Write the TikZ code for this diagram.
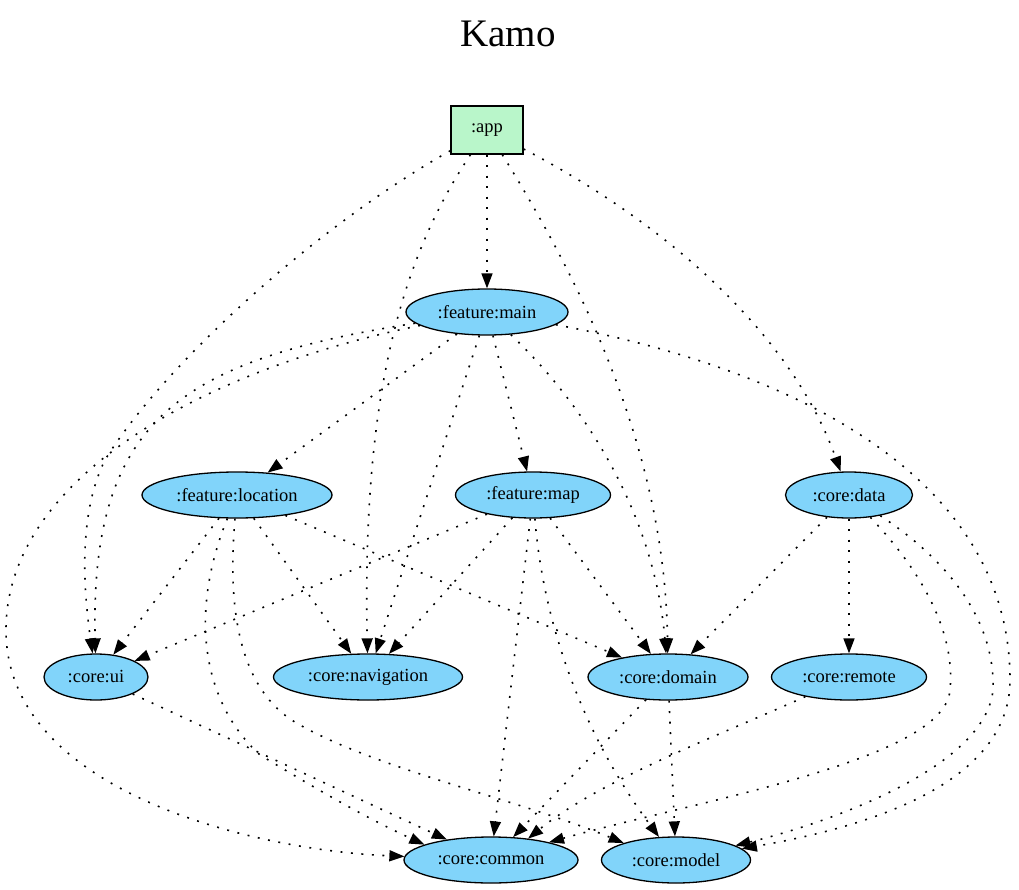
\documentclass[tikz,border=0pt]{standalone}
\usepackage{fontspec}
\setmainfont{Liberation Serif}
\usetikzlibrary{shapes.geometric,arrows.meta}
\definecolor{modblue}{HTML}{81D4FA}
\definecolor{appgreen}{HTML}{B9F6CA}
\begin{document}
\begin{tikzpicture}[x=1pt,y=-1pt,
  mod/.style={ellipse, draw, line width=1.3pt, fill=modblue, minimum height=46pt, inner sep=0pt, font=\fontsize{18.5}{20}\selectfont},
  appbox/.style={rectangle, draw, line width=1.3pt, fill=appgreen, minimum width=72pt, minimum height=48pt, inner sep=0pt, font=\fontsize{18.5}{20}\selectfont},
  dep/.style={line width=1.6pt, dash pattern=on 1.9pt off 8.6pt, -{Triangle[length=15pt,width=11pt]}},
  titlestyle/.style={font=\fontsize{39}{42}\selectfont, anchor=base}]
\useasboundingbox (0,0) rectangle (1019,890);

\node[titlestyle] (title) at (508,47) {Kamo};

\node[appbox] (app) at (487,130) {:app};
\node[mod, minimum width=162pt] (fmain) at (487,312) {:feature:main};
\node[mod, minimum width=190pt] (floc) at (237,495) {:feature:location};
\node[mod, minimum width=155pt] (fmap) at (533,495) {:feature:map};
\node[mod, minimum width=127pt] (data) at (849,495) {:core:data};
\node[mod, minimum width=104pt] (ui) at (96,677) {:core:ui};
\node[mod, minimum width=189pt] (nav) at (368,677) {:core:navigation};
\node[mod, minimum width=160pt] (domain) at (668,677) {:core:domain};
\node[mod, minimum width=155pt] (remote) at (849,677) {:core:remote};
\node[mod, minimum width=174pt] (common) at (491,860) {:core:common};
\node[mod, minimum width=149pt] (model) at (676,860) {:core:model};

% from :app
\draw[dep] (app) -- (fmain);
\draw[dep] (app) .. controls (310,230) and (160,370) .. (105,460) .. controls (80,510) and (82,580) .. (ui);
\draw[dep] (app) .. controls (400,260) and (362,400) .. (nav);
\draw[dep] (app) .. controls (580,280) and (665,450) .. (domain);
\draw[dep] (app) .. controls (660,220) and (790,330) .. (data);

% from :feature:main
\draw[dep] (fmain) .. controls (180,360) and (90,420) .. (ui);
\draw[dep] (fmain) .. controls (200,370) and (6,480) .. (6,630) .. controls (6,790) and (250,850) .. (common);
\draw[dep] (fmain) -- (floc);
\draw[dep] (fmain) -- (nav);
\draw[dep] (fmain) -- (fmap);
\draw[dep] (fmain) .. controls (590,410) and (655,520) .. (domain);
\draw[dep] (fmain) .. controls (800,370) and (1010,480) .. (1010,680) .. controls (1010,790) and (850,830) .. (model);

% from :feature:location
\draw[dep] (floc) -- (ui);
\draw[dep] (floc) -- (nav);
\draw[dep] (floc) -- (domain);
\draw[dep] (floc) .. controls (190,610) and (200,700) .. (260,755) .. controls (310,785) and (360,815) .. (common.167);
\draw[dep] (floc) .. controls (228,600) and (235,690) .. (300,725) .. controls (380,770) and (520,800) .. (model.162);

% from :feature:map
\draw[dep] (fmap) -- (ui);
\draw[dep] (fmap) -- (nav);
\draw[dep] (fmap) -- (domain);
\draw[dep] (fmap) -- (common);
\draw[dep] (fmap) .. controls (543,620) and (580,730) .. (model);

% from :core:data
\draw[dep] (data) -- (domain);
\draw[dep] (data) -- (remote);
\draw[dep] (data) .. controls (930,580) and (955,640) .. (950,690) .. controls (945,760) and (700,800) .. (common.17);
\draw[dep] (data) .. controls (970,575) and (995,640) .. (993,690) .. controls (985,770) and (820,825) .. (model);

% others
\draw[dep] (ui) -- (common);
\draw[dep] (domain) -- (common);
\draw[dep] (domain) -- (model);
\draw[dep] (remote) .. controls (720,735) and (600,780) .. (common.30);
\end{tikzpicture}
\end{document}
